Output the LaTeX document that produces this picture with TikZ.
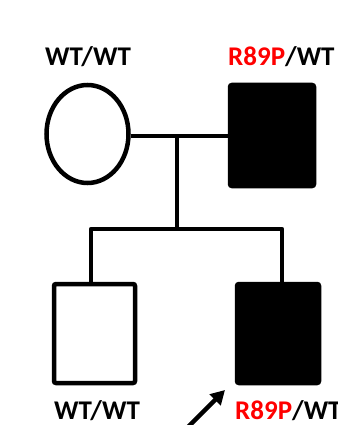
\documentclass[tikz,border=0pt]{standalone}
\usepackage{fontspec}
\setmainfont{Carlito}
\usetikzlibrary{shapes.geometric,arrows.meta}
\begin{document}
\begin{tikzpicture}[x=1pt,y=-1pt,
  ln/.style={line width=4.5pt},
  person/.style={draw,line width=4.5pt,inner sep=0pt,rounded corners=2pt},
  lbl/.style={font=\bfseries\fontsize{27}{28}\selectfont,inner sep=0pt,anchor=base west}]
\useasboundingbox (0,0) rectangle (337,425);
\clip (0,0) rectangle (337,425);
% parents
\node[ellipse,draw,line width=4.5pt,minimum width=82pt,minimum height=98pt,inner sep=0pt] (mom) at (87.5,134) {};
\node[person,fill=black,minimum width=84pt,minimum height=101pt] (dad) at (272,135.5) {};
% children
\node[person,minimum width=81pt,minimum height=99pt] (son) at (94.5,333.5) {};
\node[person,fill=black,minimum width=82pt,minimum height=99pt] (pro) at (278,333.5) {};
% labels
\node[lbl] (lmom) at (45,66) {WT/WT};
\node[lbl] (ldad) at (228,66) {\textcolor{red}{R89P}/WT};
\node[lbl] (lson) at (54,419) {WT/WT};
\node[lbl] (lpro) at (235,419) {\textcolor{red}{R89P}/WT};
% connectors
\coordinate (mid) at (177,136);
\coordinate (sib) at (177,229);
\coordinate (sibL) at (91,229);
\coordinate (sibR) at (282,229);
\draw[ln] (mom.east |- mid) -- (dad.west |- mid);
\draw[ln] (mid) -- (sib);
\draw[ln,line join=round] (son.north -| sibL) -- (sibL) -- (sibR) -- (pro.north -| sibR);
% proband arrow
\coordinate (atail) at (186,429);
\coordinate (ahead) at (225,390);
\draw[line width=4.5pt,-{Triangle[length=14pt,width=15pt]}] (atail) -- (ahead);
\end{tikzpicture}
\end{document}
